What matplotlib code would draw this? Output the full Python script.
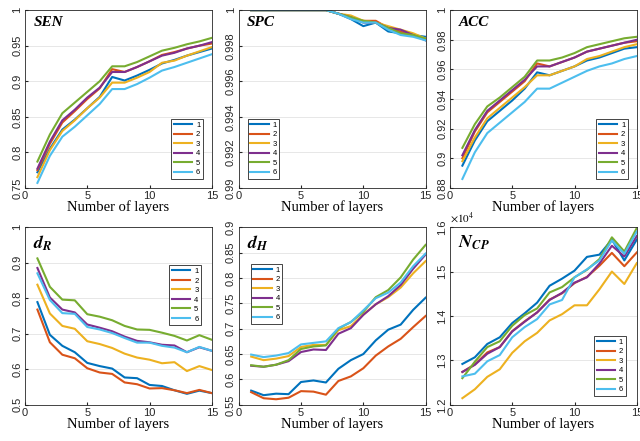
import matplotlib
matplotlib.use("Agg")
import matplotlib.pyplot as plt

plt.rcParams["font.family"] = ["Liberation Sans", "DejaVu Sans"]
plt.rcParams["mathtext.fontset"] = "stix"

layers = list(range(1, 16))
series_names = ["1", "2", "3", "4", "5", "6"]
colors = ["#0072BD", "#D95319", "#EDB120", "#7E2F8E", "#77AC30", "#4DBEEE"]

sen = [
    [0.772, 0.805, 0.832, 0.846, 0.862, 0.878, 0.906, 0.901, 0.908, 0.916, 0.925, 0.930, 0.936, 0.941, 0.946],
    [0.775, 0.812, 0.842, 0.858, 0.875, 0.890, 0.917, 0.913, 0.920, 0.928, 0.937, 0.941, 0.946, 0.950, 0.953],
    [0.765, 0.803, 0.830, 0.845, 0.862, 0.877, 0.898, 0.898, 0.905, 0.913, 0.926, 0.929, 0.936, 0.942, 0.948],
    [0.777, 0.815, 0.845, 0.860, 0.877, 0.891, 0.913, 0.913, 0.920, 0.928, 0.936, 0.940, 0.946, 0.950, 0.955],
    [0.787, 0.825, 0.855, 0.870, 0.885, 0.900, 0.921, 0.921, 0.927, 0.935, 0.943, 0.947, 0.952, 0.956, 0.961],
    [0.757, 0.795, 0.822, 0.836, 0.852, 0.868, 0.889, 0.889, 0.896, 0.905, 0.915, 0.920, 0.926, 0.932, 0.938],
]
spc = [
    [1, 1, 1, 1, 1, 1, 1, 0.9998, 0.9995, 0.9991, 0.9993, 0.9988, 0.9987, 0.9986, 0.9985],
    [1, 1, 1, 1, 1, 1, 1, 0.9998, 0.9996, 0.9994, 0.9994, 0.9990, 0.9988, 0.9986, 0.9984],
    [1, 1, 1, 1, 1, 1, 1, 0.9998, 0.9997, 0.9994, 0.9993, 0.9991, 0.9989, 0.9987, 0.9984],
    [1, 1, 1, 1, 1, 1, 1, 0.9998, 0.9996, 0.9993, 0.9993, 0.9990, 0.9989, 0.9986, 0.9983],
    [1, 1, 1, 1, 1, 1, 1, 0.9998, 0.9996, 0.9994, 0.9993, 0.9990, 0.9987, 0.9986, 0.9984],
    [1, 1, 1, 1, 1, 1, 1, 0.9998, 0.9995, 0.9993, 0.9993, 0.9989, 0.9986, 0.9985, 0.9983],
]
acc = [
    [0.895, 0.912, 0.925, 0.932, 0.939, 0.947, 0.958, 0.956, 0.959, 0.962, 0.966, 0.968, 0.971, 0.974, 0.975],
    [0.900, 0.918, 0.931, 0.938, 0.945, 0.952, 0.964, 0.962, 0.965, 0.968, 0.972, 0.974, 0.976, 0.978, 0.979],
    [0.898, 0.914, 0.927, 0.934, 0.941, 0.948, 0.956, 0.956, 0.959, 0.962, 0.967, 0.969, 0.972, 0.975, 0.977],
    [0.902, 0.919, 0.932, 0.939, 0.946, 0.953, 0.962, 0.962, 0.965, 0.968, 0.972, 0.974, 0.976, 0.978, 0.980],
    [0.907, 0.923, 0.935, 0.941, 0.948, 0.955, 0.966, 0.966, 0.968, 0.971, 0.975, 0.977, 0.979, 0.981, 0.982],
    [0.886, 0.904, 0.917, 0.924, 0.931, 0.938, 0.947, 0.947, 0.951, 0.955, 0.959, 0.962, 0.964, 0.967, 0.969],
]
d_r = [
    [0.789, 0.697, 0.666, 0.648, 0.618, 0.609, 0.602, 0.577, 0.575, 0.556, 0.553, 0.541, 0.531, 0.540, 0.533],
    [0.768, 0.676, 0.641, 0.631, 0.603, 0.591, 0.587, 0.563, 0.558, 0.546, 0.547, 0.541, 0.533, 0.542, 0.533],
    [0.838, 0.757, 0.722, 0.714, 0.679, 0.671, 0.660, 0.644, 0.633, 0.627, 0.617, 0.620, 0.595, 0.609, 0.598],
    [0.885, 0.802, 0.768, 0.760, 0.726, 0.717, 0.707, 0.692, 0.680, 0.676, 0.669, 0.667, 0.648, 0.662, 0.652],
    [0.912, 0.832, 0.796, 0.794, 0.755, 0.748, 0.738, 0.722, 0.712, 0.711, 0.703, 0.694, 0.681, 0.696, 0.683],
    [0.870, 0.795, 0.758, 0.756, 0.719, 0.712, 0.702, 0.688, 0.675, 0.675, 0.666, 0.661, 0.648, 0.663, 0.652],
]
d_h = [
    [0.578, 0.569, 0.572, 0.571, 0.595, 0.598, 0.594, 0.621, 0.638, 0.650, 0.677, 0.698, 0.708, 0.737, 0.761],
    [0.575, 0.563, 0.561, 0.564, 0.577, 0.576, 0.570, 0.597, 0.606, 0.622, 0.647, 0.665, 0.680, 0.703, 0.725],
    [0.645, 0.638, 0.641, 0.646, 0.664, 0.668, 0.668, 0.697, 0.705, 0.728, 0.748, 0.762, 0.781, 0.809, 0.833],
    [0.627, 0.625, 0.629, 0.636, 0.654, 0.659, 0.658, 0.690, 0.701, 0.727, 0.748, 0.764, 0.786, 0.818, 0.846],
    [0.628, 0.625, 0.629, 0.638, 0.660, 0.665, 0.667, 0.700, 0.713, 0.733, 0.762, 0.776, 0.801, 0.836, 0.865],
    [0.649, 0.644, 0.647, 0.652, 0.669, 0.672, 0.675, 0.701, 0.713, 0.736, 0.760, 0.771, 0.791, 0.823, 0.848],
]
n_cp = [
    [12920, 13070, 13370, 13520, 13840, 14060, 14300, 14680, 14840, 15020, 15330, 15380, 15720, 15250, 15720],
    [12740, 12910, 13180, 13300, 13660, 13880, 14080, 14370, 14510, 14740, 14880, 15130, 15420, 15120, 15430],
    [12150, 12350, 12630, 12800, 13170, 13430, 13620, 13900, 14040, 14240, 14240, 14600, 15000, 14720, 15190],
    [12740, 12900, 13150, 13300, 13650, 13870, 14080, 14360, 14520, 14750, 14870, 15180, 15580, 15340, 15800],
    [12600, 12970, 13300, 13430, 13780, 14020, 14170, 14530, 14650, 14870, 15040, 15280, 15770, 15450, 15980],
    [12640, 12700, 12980, 13120, 13520, 13750, 13930, 14260, 14360, 14870, 15050, 15250, 15700, 15400, 15900],
]

panels = [
    # data, title, ylim, yticks, yticklabels, legend loc, legend anchor
    (sen, "SEN", (0.75, 1.0), [0.75, 0.8, 0.85, 0.9, 0.95, 1.0],
     ["0.75", "0.8", "0.85", "0.9", "0.95", "1"], "upper right", (0.973, 0.41)),
    (spc, "SPC", (0.99, 1.0), [0.99, 0.992, 0.994, 0.996, 0.998, 1.0],
     ["0.99", "0.992", "0.994", "0.996", "0.998", "1"], "upper left", (0.027, 0.41)),
    (acc, "ACC", (0.88, 1.0), [0.88, 0.9, 0.92, 0.94, 0.96, 0.98, 1.0],
     ["0.88", "0.9", "0.92", "0.94", "0.96", "0.98", "1"], "upper right", (0.973, 0.41)),
    (d_r, r"$\boldsymbol{d}_{\boldsymbol{R}}$", (0.5, 1.0), [0.5, 0.6, 0.7, 0.8, 0.9, 1.0],
     ["0.5", "0.6", "0.7", "0.8", "0.9", "1"], "upper right", (0.963, 0.808)),
    (d_h, r"$\boldsymbol{d}_{\boldsymbol{H}}$", (0.55, 0.9), [0.55, 0.6, 0.65, 0.7, 0.75, 0.8, 0.85, 0.9],
     ["0.55", "0.6", "0.65", "0.7", "0.75", "0.8", "0.85", "0.9"], "upper left", (0.043, 0.814)),
    (n_cp, r"$\boldsymbol{N}_{\boldsymbol{CP}}$", (12000, 16000), [12000, 13000, 14000, 15000, 16000],
     ["1.2", "1.3", "1.4", "1.5", "1.6"], "upper right", (0.962, 0.41)),
]

lefts = [0.039, 0.373, 0.703]
bottoms = [0.574, 0.082]
W, H = 0.292, 0.403

fig = plt.figure(figsize=(6.4, 4.41), dpi=100)

for i, (data, title, ylim, yt, ytl, loc, anchor) in enumerate(panels):
    ax = fig.add_axes([lefts[i % 3], bottoms[i // 3], W, H])
    for vals, name, c in zip(data, series_names, colors):
        ax.plot(layers, vals, color=c, lw=1.5, label=name)
    ax.set_xlim(0, 15)
    ax.set_ylim(*ylim)
    ax.set_xticks([0, 5, 10, 15])
    ax.set_yticks(yt)
    ax.set_yticklabels(ytl, rotation=90, va="center")
    ax.tick_params(direction="in", length=2.5, labelsize=8, pad=2, colors="#262626")
    ax.yaxis.grid(True, color="#e3e3e3", lw=0.6)
    ax.set_axisbelow(True)
    for s in ax.spines.values():
        s.set_color("#262626")
        s.set_linewidth(0.6)
    ax.set_xlabel("Number of layers", family="Liberation Serif", fontsize=10.5, labelpad=0)
    if i < 3:
        ax.text(0.045, 0.93, title, transform=ax.transAxes, family="Liberation Serif",
                fontsize=11, fontweight="bold", fontstyle="italic", va="center")
    else:
        ax.text(0.045, 0.91, title, transform=ax.transAxes, fontsize=13, va="center")
    leg = ax.legend(loc=loc, bbox_to_anchor=anchor, fontsize=5.5, handlelength=2.4,
                    labelspacing=0.28, borderpad=0.35, handletextpad=0.5, fancybox=False,
                    framealpha=1, edgecolor="#262626")
    leg.get_frame().set_linewidth(0.6)
    if i == 5:
        ax.text(0.0, 1.01, r"$\times10^4$", transform=ax.transAxes, fontsize=8, va="bottom")

fig.savefig("out.png", dpi=100)
